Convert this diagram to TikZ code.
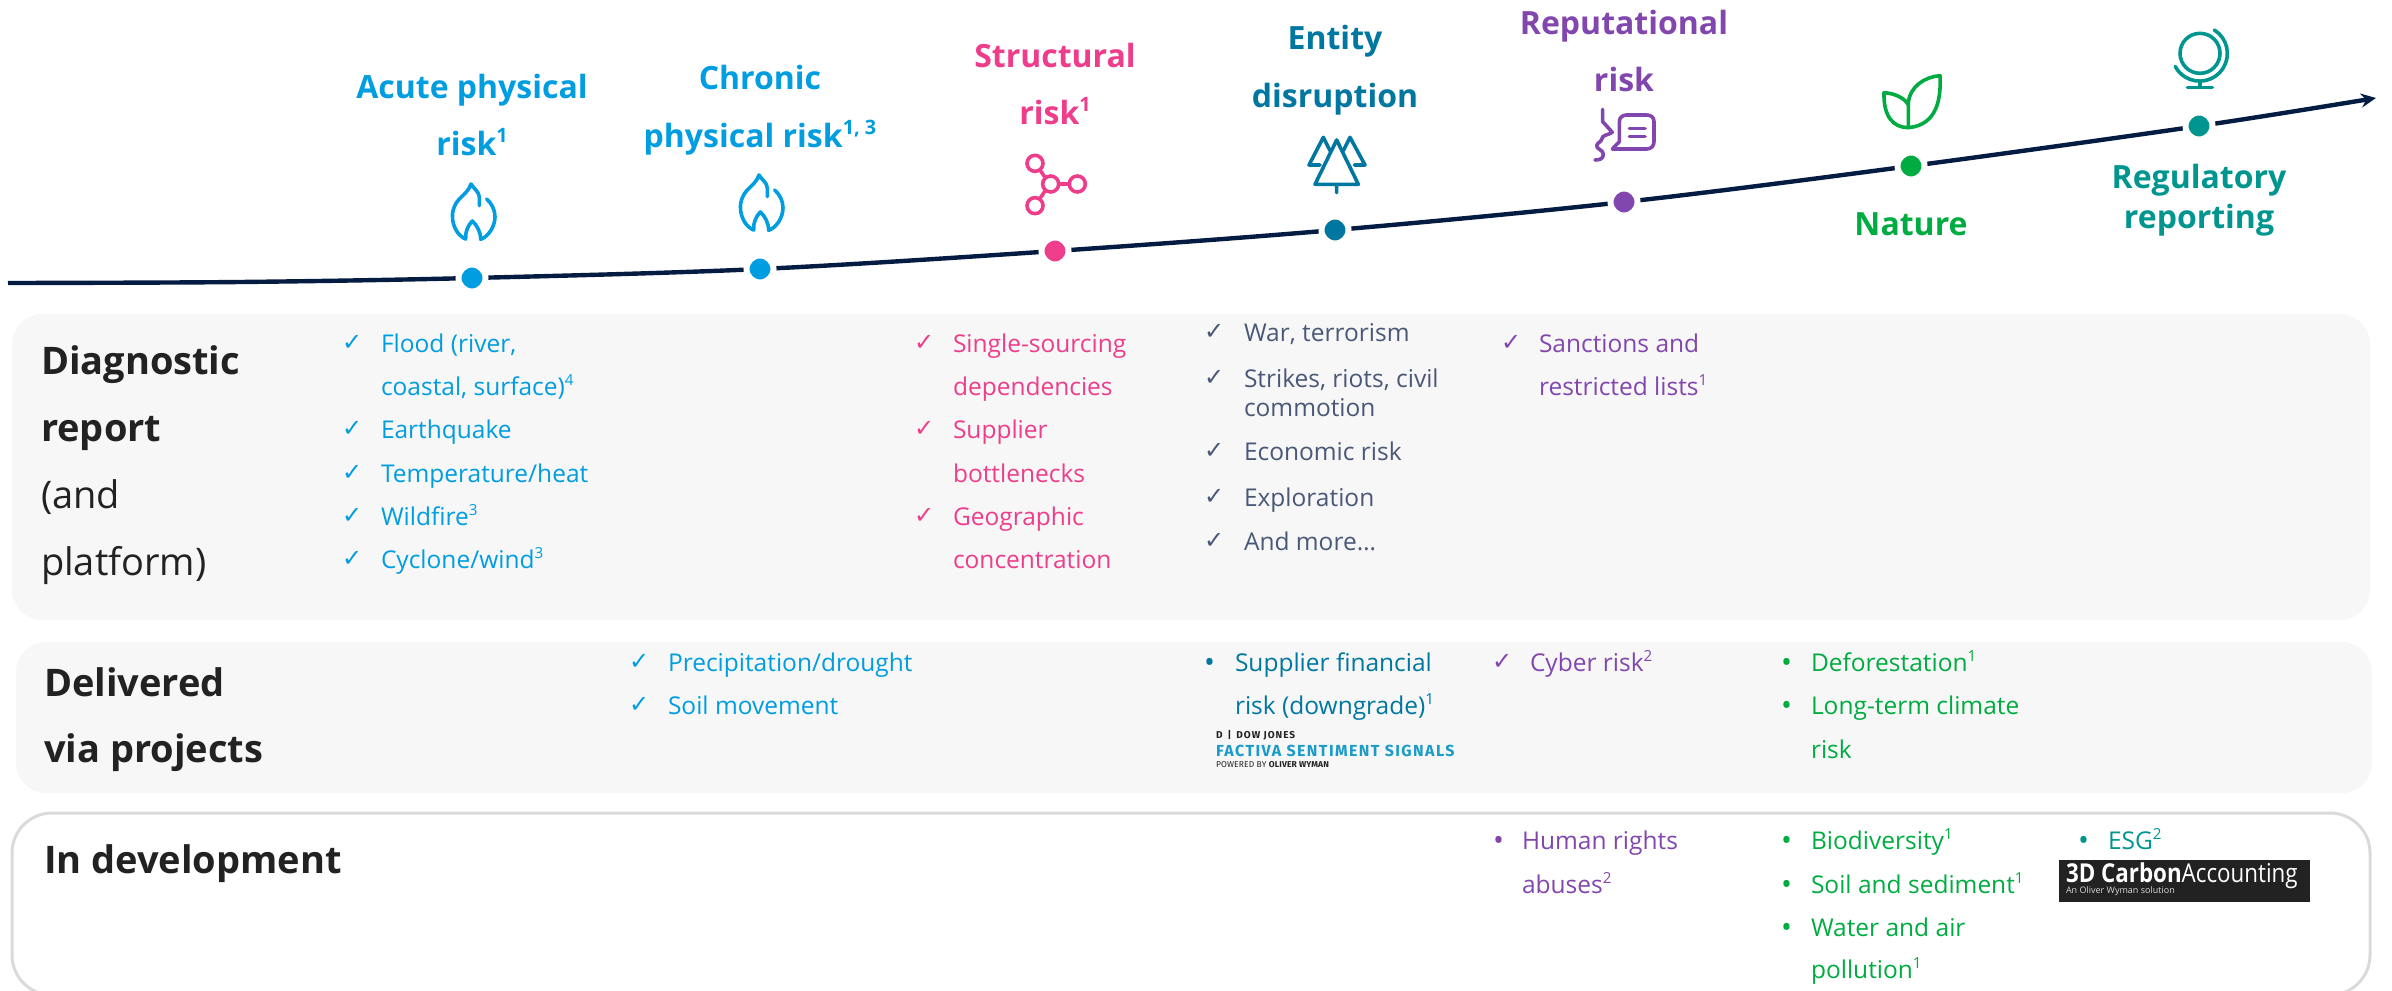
\documentclass[tikz,border=0pt]{standalone}
\usepackage{fontspec}
\usepackage{graphicx}
\setmainfont{Open Sans}
\newfontfamily\djv{DejaVu Sans}
\newfontfamily\fira{Fira Sans}
\usetikzlibrary{arrows.meta}
\definecolor{cblue}{HTML}{009DE0}
\definecolor{cpink}{HTML}{EE3D8B}
\definecolor{cent}{HTML}{0077A0}
\definecolor{cpurp}{HTML}{8246AF}
\definecolor{cgreen}{HTML}{00AC41}
\definecolor{cteal}{HTML}{00968F}
\definecolor{cnavy}{HTML}{051C42}
\definecolor{cslate}{HTML}{4A5878}
\definecolor{cdark}{HTML}{222222}
\definecolor{cpanel}{HTML}{F7F7F7}
\definecolor{cedge}{HTML}{DADADA}
\definecolor{cfact}{HTML}{1A9BC9}
\newcommand{\su}[1]{\raisebox{0.4em}{\scalebox{0.62}{#1}}}
\tikzset{
  x=1pt,y=-1pt,
  txt/.style={anchor=base west,inner sep=0pt,outer sep=0pt},
  head/.style={anchor=base,inner sep=0pt,outer sep=0pt,font=\fontsize{32}{36}\selectfont\bfseries},
  side/.style={txt,text=cdark,font=\fontsize{38}{42}\selectfont\bfseries},
  sidelight/.style={txt,text=cdark,font=\fontsize{38}{42}\selectfont},
  item/.style={txt,font=\fontsize{24.5}{30}\selectfont},
  chk/.style={txt,font=\fontsize{24}{30}\djv},
  bul/.style={txt,font=\fontsize{29}{30}\selectfont},
  dot/.style={circle,inner sep=0pt,minimum size=27pt,draw=white,line width=6pt,fill=#1},
  icon/.style={draw=#1,line width=3.6pt,line cap=round,line join=round},
  panel/.style={fill=cpanel,rounded corners=30pt},
}
\begin{document}
\begin{tikzpicture}
\useasboundingbox (0,0) rectangle (2392,990);
% panels
\fill[panel] (12,314) rectangle (2370,620);
\fill[panel] (16,642) rectangle (2372,793);
\draw[cedge,line width=3pt,rounded corners=40pt] (12,813) rectangle (2370,995);
% timeline
\coordinate (s0) at (8,283);
\coordinate (s1) at (240,282);
\coordinate (p1) at (472,278);
\coordinate (p2) at (760,269);
\coordinate (p3) at (1055,251);
\coordinate (p4) at (1335,230);
\coordinate (p5) at (1624,202);
\coordinate (p6) at (1911,166);
\coordinate (p7) at (2199,126);
\coordinate (tip) at (2376,98);
\draw[cnavy,line width=4.4pt,-{Stealth[length=15pt,width=14pt]}] plot[smooth,tension=0.55] coordinates {(s0) (s1) (p1) (p2) (p3) (p4) (p5) (p6) (p7) (tip)};
\node[dot=cblue] (d1) at (p1) {};
\node[dot=cblue] (d2) at (p2) {};
\node[dot=cpink] (d3) at (p3) {};
\node[dot=cent] (d4) at (p4) {};
\node[dot=cpurp] (d5) at (p5) {};
\node[dot=cgreen] (d6) at (p6) {};
\node[dot=cteal] (d7) at (p7) {};
% headings
\node[head,text=cblue] (h1a) at (472,98) {Acute physical};
\node[head,text=cblue] (h1b) at (472,155) {risk\su{1}};
\node[head,text=cblue] (h2a) at (760,89) {Chronic};
\node[head,text=cblue] (h2b) at (760,147) {physical risk\su{1, 3}};
\node[head,text=cpink] (h3a) at (1055,67) {Structural};
\node[head,text=cpink] (h3b) at (1055,124) {risk\su{1}};
\node[head,text=cent] (h4a) at (1335,50) {Entity};
\node[head,text=cent] (h4b) at (1335,107) {disruption};
\node[head,text=cpurp] (h5a) at (1624,35) {Reputational};
\node[head,text=cpurp] (h5b) at (1624,91) {risk};
\node[head,text=cgreen] (h6a) at (1911,235) {Nature};
\node[head,text=cteal] (h7a) at (2199,188) {Regulatory};
\node[head,text=cteal] (h7b) at (2199,228) {reporting};
% icons
\foreach \ox/\oy in {430/170,718/161}{
\begin{scope}[shift={(\ox,\oy)},scale=0.3333]
\draw[icon=cblue] (148,107) -- (148,82) .. controls (148,65) and (130,55) .. (123,42) .. controls (118,60) and (100,75) .. (90,85) .. controls (70,105) and (65,130) .. (68,150) .. controls (72,175) and (85,198) .. (107,207) .. controls (105,185) and (115,165) .. (127,153) .. controls (140,165) and (152,185) .. (152,208) .. controls (175,200) and (195,170) .. (195,140) .. controls (195,120) and (185,100) .. (170,87);
\end{scope}}
\begin{scope}[shift={(1010,145)},scale=0.3333]
\draw[icon=cpink] (75,55) circle[radius=24] (122,117) circle[radius=24] (202,117) circle[radius=24] (75,182) circle[radius=24];
\draw[icon=cpink] (90,75) -- (105,97) (147,117) -- (178,117) (105,138) -- (90,160);
\end{scope}
\begin{scope}[shift={(1295,130)},scale=0.3333]
\draw[icon=cent] (125,30) -- (60,163) -- (190,163) -- cycle (125,163) -- (125,188);
\draw[icon=cent] (105,62) -- (85,22) -- (42,105) -- (75,105);
\draw[icon=cent] (145,62) -- (165,22) -- (210,105) -- (178,105);
\end{scope}
\begin{scope}[shift={(1580,100)},scale=0.3333]
\draw[icon=cpurp] (68,28) -- (68,65) -- (97,97) .. controls (85,105) and (65,105) .. (65,118) .. controls (65,125) and (50,128) .. (50,138) .. controls (50,148) and (72,150) .. (70,165) .. controls (69,178) and (55,180) .. (45,180);
\draw[icon=cpurp] (97,147) -- (118,125) -- (118,65) .. controls (118,52) and (128,45) .. (140,45) -- (200,45) .. controls (213,45) and (222,52) .. (222,65) -- (222,125) .. controls (222,138) and (213,147) .. (200,147) -- cycle;
\draw[icon=cpurp] (148,85) -- (195,85) (148,110) -- (195,110);
\end{scope}
\begin{scope}[shift={(1860,60)},scale=0.3333]
\draw[icon=cgreen] (145,203) -- (145,130) .. controls (148,80) and (195,50) .. (240,47) .. controls (243,110) and (235,195) .. (145,203) .. controls (100,203) and (70,170) .. (72,98) .. controls (105,100) and (135,115) .. (145,135);
\end{scope}
\begin{scope}[shift={(2150,20)},scale=0.3333]
\draw[icon=cteal] (150,100) circle[radius=60];
\draw[icon=cteal] (193,30) arc[start angle=-58,end angle=152,radius=83];
\draw[icon=cteal] (150,185) -- (150,202) (112,202) -- (187,202);
\end{scope}
% side labels
\node[side] (l1) at (41,374) {Diagnostic};
\node[side] (l2) at (41,441) {report};
\node[sidelight] (l3) at (41,508) {(and};
\node[sidelight] (l4) at (41,575) {platform)};
\node[side] (l5) at (44,696) {Delivered};
\node[side] (l6) at (44,762) {via projects};
\node[side] (l7) at (44,873) {In development};
% column 1
\begin{scope}[every node/.append style={text=cblue}]
\node[chk] (k1) at (342,350) {✓};
\node[item] (a1) at (381,352) {Flood (river,};
\node[item] (a1b) at (381,395) {coastal, surface)\su{4}};
\node[chk] (k2) at (342,436) {✓};
\node[item] (a2) at (381,438) {Earthquake};
\node[chk] (k3) at (342,480) {✓};
\node[item] (a3) at (381,482) {Temperature/heat};
\node[chk] (k4) at (342,523) {✓};
\node[item] (a4) at (381,525) {Wildfire\su{3}};
\node[chk] (k5) at (342,566) {✓};
\node[item] (a5) at (381,568) {Cyclone/wind\su{3}};
\node[chk] (k6) at (629,669) {✓};
\node[item] (b1) at (668,671) {Precipitation/drought};
\node[chk] (k7) at (629,712) {✓};
\node[item] (b2) at (668,714) {Soil movement};
\end{scope}
% column 3
\begin{scope}[every node/.append style={text=cpink}]
\node[chk] (k8) at (914,350) {✓};
\node[item] (c1) at (953,352) {Single-sourcing};
\node[item] (c1b) at (953,395) {dependencies};
\node[chk] (k9) at (914,436) {✓};
\node[item] (c2) at (953,438) {Supplier};
\node[item] (c2b) at (953,482) {bottlenecks};
\node[chk] (k10) at (914,523) {✓};
\node[item] (c3) at (953,525) {Geographic};
\node[item] (c3b) at (953,568) {concentration};
\end{scope}
% column 4
\begin{scope}[every node/.append style={text=cslate}]
\node[chk] (k11) at (1204,339) {✓};
\node[item] (e1) at (1244,341) {War, terrorism};
\node[chk] (k12) at (1204,385) {✓};
\node[item] (e2) at (1244,387) {Strikes, riots, civil};
\node[item] (e2b) at (1244,416) {commotion};
\node[chk] (k13) at (1204,458) {✓};
\node[item] (e3) at (1244,460) {Economic risk};
\node[chk] (k14) at (1204,504) {✓};
\node[item] (e4) at (1244,506) {Exploration};
\node[chk] (k15) at (1204,548) {✓};
\node[item] (e5) at (1244,550) {And more…};
\end{scope}
\begin{scope}[every node/.append style={text=cent}]
\node[bul] (b3) at (1204,672) {•};
\node[item] (f1) at (1235,671) {Supplier financial};
\node[item] (f1b) at (1235,714) {risk (downgrade)\su{1}};
\end{scope}
% factiva logo
\node[txt,text=cdark,font=\fontsize{10}{12}\fira\bfseries\addfontfeature{LetterSpace=10}] (fa) at (1216,738) {D \,|\, DOW JONES};
\node[txt,text=cfact,font=\fontsize{16}{18}\fira\bfseries\addfontfeature{LetterSpace=8.8}] (fb) at (1216,756) {FACTIVA SENTIMENT SIGNALS};
\node[txt,text=cdark,font=\fontsize{8.5}{10}\fira\addfontfeature{LetterSpace=1.5}] (fc) at (1216,767) {POWERED BY \textbf{OLIVER WYMAN}};
% column 5
\begin{scope}[every node/.append style={text=cpurp}]
\node[chk] (k16) at (1501,350) {✓};
\node[item] (g1) at (1539,352) {Sanctions and};
\node[item] (g1b) at (1539,395) {restricted lists\su{1}};
\node[chk] (k17) at (1492,669) {✓};
\node[item] (g2) at (1530,671) {Cyber risk\su{2}};
\node[bul] (b4) at (1493,850) {•};
\node[item] (g3) at (1522,849) {Human rights};
\node[item] (g3b) at (1522,893) {abuses\su{2}};
\end{scope}
% column 6
\begin{scope}[every node/.append style={text=cgreen}]
\node[bul] (b5) at (1781,672) {•};
\node[item] (n1) at (1811,671) {Deforestation\su{1}};
\node[bul] (b6) at (1781,715) {•};
\node[item] (n2) at (1811,714) {Long-term climate};
\node[item] (n2b) at (1811,758) {risk};
\node[bul] (b7) at (1781,850) {•};
\node[item] (n3) at (1811,849) {Biodiversity\su{1}};
\node[bul] (b8) at (1781,894) {•};
\node[item] (n4) at (1811,893) {Soil and sediment\su{1}};
\node[bul] (b9) at (1781,937) {•};
\node[item] (n5) at (1811,936) {Water and air};
\node[item] (n5b) at (1811,978) {pollution\su{1}};
\end{scope}
% column 7
\node[bul,text=cteal] (b10) at (2078,850) {•};
\node[item,text=cteal] (r1) at (2108,849) {ESG\su{2}};
\fill[cdark] (2059,860) rectangle (2310,902);
\node[txt,text=white,font=\fontsize{26}{28}\selectfont] (lg1) at (2066,882) {\scalebox{0.86}[1]{\textbf{3D Carbon}Accounting}};
\node[txt,text=white!85!black,font=\fontsize{9}{12}\selectfont] (lg2) at (2066,893) {An Oliver Wyman solution};
\end{tikzpicture}
\end{document}
